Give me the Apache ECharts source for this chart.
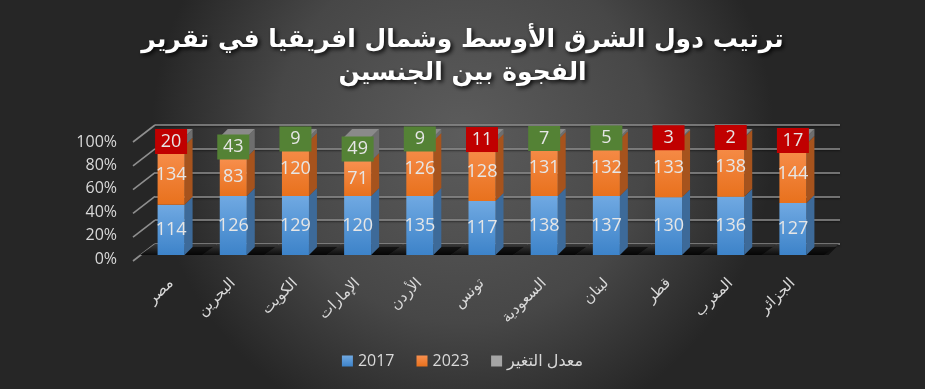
<!DOCTYPE html>
<html><head><meta charset="utf-8">
<script src="https://cdn.jsdelivr.net/npm/echarts@6/dist/echarts.min.js"></script>
<style>html,body{margin:0;padding:0;background:#333}#c{width:925px;height:389px}</style>
</head><body><div id="c"></div>
<script>
const categories = ['مصر','البحرين','الكويت','الإمارات','الأردن','تونس','السعودية','لبنان','قطر','المغرب','الجزائر'];
const rank2017 = [114,126,129,120,135,117,138,137,130,136,127];
const rank2023 = [134,83,120,71,126,128,131,132,133,138,144];
const changeRate = [20,43,9,49,9,11,7,5,3,2,17];
const yTicks = [0,20,40,60,80,100];
const seriesNames = ['2017','2023','معدل التغير'];

const totals = categories.map((c,i)=>rank2017[i]+rank2023[i]+changeRate[i]);
const pct = arr => arr.map((v,i)=>v/totals[i]*100);
const p17 = pct(rank2017), p23 = pct(rank2023), pCh = pct(changeRate);

const DX = 8, DY = -8;
const FONT = "'Open Sans', 'DejaVu Sans', sans-serif";
const lab = '#e6e6e6';

function vgrad(a,b){return {type:'linear',x:0,y:0,x2:0,y2:1,colorStops:[{offset:0,color:a},{offset:1,color:b}]};}

const chart = echarts.init(document.getElementById('c'));
const option = {
  backgroundColor: {type:'radial',x:0.5,y:0.35,r:0.8,colorStops:[{offset:0,color:'#5c5c5c'},{offset:0.6,color:'#474747'},{offset:1,color:'#262626'}]},
  title: {
    text: 'ترتيب دول الشرق الأوسط وشمال افريقيا في تقرير\nالفجوة بين الجنسين',
    left: 'center', top: 24, padding: 0,
    textStyle: {color:'#ffffff', fontSize:25, fontWeight:'bold', fontFamily:"'DejaVu Sans', sans-serif", lineHeight:33,
      textShadowColor:'rgba(0,0,0,0.9)', textShadowBlur:4, textShadowOffsetX:2, textShadowOffsetY:2, align:'center'}
  },
  legend: {
    top: 348, left: 'center', itemWidth: 11, itemHeight: 11, itemGap: 22,
    icon: 'rect',
    textStyle: {color:'#d9d9d9', fontSize:16, fontFamily:FONT},
    data: seriesNames
  },
  grid: [
    {left:140, right:101, top:137, height:118},
    {left:155, right:85, top:125, height:119},
    {left:133, right:85, top:142, height:117}
  ],
  xAxis: [
    {gridIndex:0, type:'category', data:categories, axisLine:{show:false}, axisTick:{show:false},
     axisLabel:{rotate:45, margin:26, color:'#d9d9d9', fontSize:15, fontFamily:"'DejaVu Sans', sans-serif", interval:0}},
    {gridIndex:1, type:'value', min:0, max:1, show:false},
    {gridIndex:2, type:'value', min:0, max:1, show:false}
  ],
  yAxis: [
    {gridIndex:0, type:'value', min:0, max:100, interval:20, show:false},
    {gridIndex:1, type:'value', min:0, max:100, interval:20, axisLabel:{show:false}, axisLine:{show:false}, axisTick:{show:false},
     splitLine:{lineStyle:{color:'#8f8f8f', width:1.6, shadowColor:'rgba(0,0,0,0.6)', shadowBlur:2, shadowOffsetY:1}}},
    {gridIndex:2, type:'value', min:0, max:100, interval:20, axisLine:{show:false}, axisTick:{show:false}, splitLine:{show:false},
     axisLabel:{margin:16, color:'#d9d9d9', fontSize:16, fontFamily:FONT, formatter: v=> v+'%'}}
  ],
  series: [
    {
      type:'custom', xAxisIndex:1, yAxisIndex:1, z:1, silent:true,
      data: yTicks.map(v=>[0,v]),
      renderItem: (params, api) => {
        const p = api.coord([0, api.value(1)]);
        return {type:'line', shape:{x1:p[0]-22, y1:p[1]+17, x2:p[0], y2:p[1]}, style:{stroke:'#8f8f8f', lineWidth:1.6}};
      }
    },
    {
      type:'custom', xAxisIndex:0, yAxisIndex:0, z:2, silent:true,
      data: categories.map((c,i)=>[i]),
      renderItem: (params, api) => {
        const i = api.value(0);
        const band = api.size([1,0])[0];
        const base = api.coord([i,0]);
        const cx = base[0];
        const bw = 27;
        const children = [];
        const x0 = cx - band/2, x1 = cx + band/2;
        children.push({type:'polygon', shape:{points:[[x0,base[1]],[x1,base[1]],[x1+15,base[1]-11],[x0+15,base[1]-11]]},
          style:{fill:vgrad('#3a3a3a','#0d0d0d')}});
        children.push({type:'polygon', shape:{points:[[cx+bw/2,base[1]],[cx+bw/2+22,base[1]],[cx+bw/2+30,base[1]-8],[cx+bw/2+8,base[1]-8]]},
          style:{fill:'rgba(0,0,0,0.55)'}});
        const segs = [[0,p17[i],'#3d6a99'],[p17[i],p17[i]+p23[i],'#a6531d'],[p17[i]+p23[i],100,'#6e6e6e']];
        const xr = cx + bw/2;
        segs.forEach(s=>{
          const a = api.coord([i,s[0]])[1], b = api.coord([i,s[1]])[1];
          children.push({type:'polygon', shape:{points:[[xr,a],[xr+DX,a+DY],[xr+DX,b+DY],[xr,b]]}, style:{fill:s[2]}});
        });
        const top = api.coord([i,100])[1];
        children.push({type:'polygon', shape:{points:[[xr-bw,top],[xr,top],[xr+DX,top+DY],[xr-bw+DX,top+DY]]}, style:{fill:'#8a8a8a'}});
        return {type:'group', children};
      }
    },
    {
      name:'2017', type:'bar', stack:'s', barWidth:27, z:3, xAxisIndex:0, yAxisIndex:0,
      data:p17,
      itemStyle:{color:vgrad('#70a9e2','#3d83c9')},
      label:{show:true, position:'inside', color:lab, fontSize:18, fontFamily:FONT, formatter:p=>rank2017[p.dataIndex]}
    },
    {
      name:'2023', type:'bar', stack:'s', barWidth:27, z:3, xAxisIndex:0, yAxisIndex:0,
      data:p23,
      itemStyle:{color:vgrad('#f8904f','#e8711d')},
      label:{show:true, position:'inside', color:lab, fontSize:18, fontFamily:FONT, formatter:p=>rank2023[p.dataIndex]}
    },
    {
      name:'معدل التغير', type:'bar', stack:'s', barWidth:27, z:3, xAxisIndex:0, yAxisIndex:0,
      data:pCh.map((v,i)=>({value:v, label:{backgroundColor: rank2023[i]>rank2017[i] ? '#c00000' : '#548235'}})),
      itemStyle:{color:'#a5a5a5'},
      label:{show:true, position:'inside', color:lab, fontSize:18, fontFamily:FONT, padding:[4,6,3,6], width:20, align:'center',
        formatter:p=>changeRate[p.dataIndex]}
    }
  ]
};
chart.setOption(option);
</script></body></html>
